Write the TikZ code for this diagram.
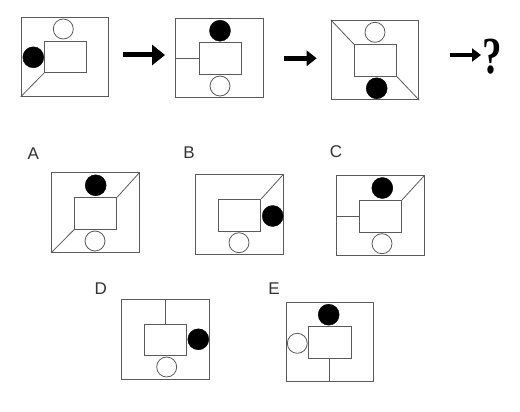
\documentclass[tikz,border=0pt]{standalone}
\usepackage{fontspec}
\setmainfont{Liberation Serif}
\newfontfamily\labfont{Liberation Sans}
\usetikzlibrary{arrows.meta}
\definecolor{ln}{HTML}{5A5A5A}
\definecolor{lab}{HTML}{333333}
\begin{document}
\begin{tikzpicture}[x=1pt,y=-1pt,
  outerbox/.style={draw=ln,line width=0.8pt,inner sep=0pt,minimum width=87.6pt,minimum height=79.5pt},
  innerbox/.style={draw=ln,line width=0.8pt,inner sep=0pt,minimum width=42.3pt,minimum height=31.7pt},
  opencirc/.style={circle,draw=ln,line width=0.8pt,inner sep=0pt,minimum size=20pt},
  fullcirc/.style={circle,draw=black,fill=black,inner sep=0pt,minimum size=21pt},
  conn/.style={draw=ln,line width=0.8pt},
  bigarrow/.style={line width=5pt,-{Triangle[length=13pt,width=20pt]}},
  midarrow/.style={line width=4.5pt,-{Triangle[length=10pt,width=15pt]}},
  choice/.style={font=\labfont\fontsize{17}{17}\selectfont,text=lab,inner sep=0pt}
]
\useasboundingbox (0,0) rectangle (520,412);
\fill[white] (0,0) rectangle (520,412);

% figure 1
\node[outerbox] (o1) at (64.85,56.7) {};
\node[innerbox] (i1) at (65.5,56.85) {};
\node[opencirc] (w1) at (63.3,29) {};
\node[fullcirc] (b1) at (33.3,57.3) {};
\draw[conn] (i1.south west) -- (o1.south west);

% figure 2
\node[outerbox] (o2) at (219.4,58) {};
\node[innerbox] (i2) at (220.15,58.5) {};
\node[fullcirc] (b2) at (220,30.7) {};
\node[opencirc] (w2) at (220,86) {};
\draw[conn] (o2.west) -- (o2.west -| i2.west);

% figure 3
\node[outerbox] (o3) at (375,60) {};
\node[innerbox] (i3) at (375.5,60.5) {};
\node[opencirc] (w3) at (375,32.3) {};
\node[fullcirc] (b3) at (376.7,88.3) {};
\draw[conn] (o3.north west) -- (i3.north west);
\draw[conn] (i3.south east) -- (o3.south east);

% arrows
\coordinate (a1s) at (123.3,55);
\coordinate (a1e) at (165,55);
\coordinate (a2s) at (284.3,58.3);
\coordinate (a2e) at (316.7,58.3);
\coordinate (a3s) at (450,55);
\coordinate (a3e) at (481,55);
\draw[bigarrow] (a1s) -- (a1e);
\draw[midarrow] (a2s) -- (a2e);
\draw[line width=4.5pt,-{Triangle[length=9pt,width=13pt]}] (a3s) -- (a3e);
\node[font=\bfseries\fontsize{52}{52}\selectfont,xscale=0.75,inner sep=0pt] (q) at (492.5,57) {?};

% labels
\node[choice] (lA) at (33.3,153.7) {A};
\node[choice] (lB) at (189,152.7) {B};
\node[choice] (lC) at (336,151.7) {C};
\node[choice] (lD) at (100.7,289) {D};
\node[choice] (lE) at (274,289) {E};

% A
\node[outerbox] (oA) at (95.5,212.5) {};
\node[innerbox] (iA) at (95.7,213.35) {};
\node[fullcirc] (bA) at (95.7,185.3) {};
\node[opencirc] (wA) at (95,241) {};
\draw[conn] (iA.north east) -- (oA.north east);
\draw[conn] (iA.south west) -- (oA.south west);

% B
\node[outerbox] (oB) at (239.2,214.5) {};
\node[innerbox] (iB) at (239.65,215.15) {};
\node[fullcirc] (bB) at (272.7,216) {};
\node[opencirc] (wB) at (239,242.7) {};
\draw[conn] (iB.north east) -- (oB.north east);

% C
\node[outerbox] (oC) at (380.35,215.5) {};
\node[innerbox] (iC) at (380.5,216.2) {};
\node[fullcirc] (bC) at (382.3,188) {};
\node[opencirc] (wC) at (382,243.7) {};
\draw[conn] (oC.west |- iC.west) -- (iC.west);
\draw[conn] (iC.north east) -- (oC.north east);

% D
\node[outerbox] (oD) at (165.5,339.15) {};
\node[innerbox] (iD) at (165.7,339.85) {};
\node[fullcirc] (bD) at (198.3,339.3) {};
\node[opencirc] (wD) at (166.7,367) {};
\draw[conn] (oD.north -| iD.north) -- (iD.north);

% E
\node[outerbox] (oE) at (329.85,342) {};
\node[innerbox] (iE) at (329.85,342.7) {};
\node[fullcirc] (bE) at (328.7,314.7) {};
\node[opencirc] (wE) at (297.3,343.3) {};
\draw[conn] (iE.south) -- (iE.south |- oE.south);
\end{tikzpicture}
\end{document}
